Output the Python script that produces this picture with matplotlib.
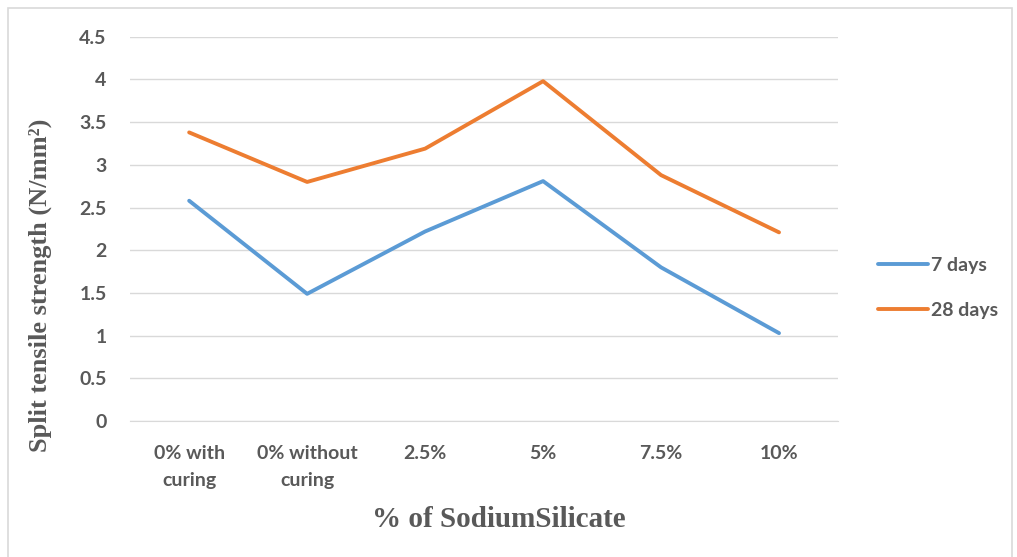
import matplotlib.pyplot as plt
from matplotlib.patches import Rectangle

categories = ["0% with\ncuring", "0% without\ncuring", "2.5%", "5%", "7.5%", "10%"]
days_7 = [2.58, 1.49, 2.22, 2.81, 1.80, 1.03]
days_28 = [3.38, 2.80, 3.19, 3.98, 2.88, 2.21]
yticks = [0, 0.5, 1, 1.5, 2, 2.5, 3, 3.5, 4, 4.5]

TXT = "#595959"
TICKFONT = {"family": "Lato", "weight": "bold", "size": 14}

fig = plt.figure(figsize=(10.17, 5.57), dpi=100)
ax = fig.add_axes([0.128, 0.244, 0.696, 0.690])

# outer chart border
fig.patches.append(Rectangle((8 / 1017, -0.05), 1004 / 1017, 1 - 8 / 557 + 0.05,
                             transform=fig.transFigure, fill=False,
                             edgecolor="#d9d9d9", linewidth=1.2))

x = range(len(categories))
ax.plot(x, days_7, color="#5B9BD5", linewidth=2.8, label="7 days", solid_capstyle="round")
ax.plot(x, days_28, color="#ED7D31", linewidth=2.8, label="28 days", solid_capstyle="round")

ax.set_xlim(-0.5, len(categories) - 0.5)
ax.set_ylim(0, 4.5)
ax.set_yticks(yticks)
ax.set_yticklabels([f"{v:g}" for v in yticks], fontdict=TICKFONT)
ax.set_xticks(list(x))
ax.set_xticklabels(categories, fontdict=TICKFONT, linespacing=1.7)
ax.grid(axis="y", color="#d9d9d9", linewidth=1)
ax.set_axisbelow(True)
for s in ax.spines.values():
    s.set_visible(False)
ax.spines["bottom"].set_visible(True)
ax.spines["bottom"].set_color("#d9d9d9")
ax.tick_params(length=0, labelcolor=TXT)
ax.tick_params(axis="y", pad=17)
ax.tick_params(axis="x", pad=17)

fig.text(0.040, 0.488, "Split tensile strength (N/mm²)", rotation=90,
         ha="center", va="center", fontsize=19, fontweight="bold",
         family="Liberation Serif", color=TXT)
fig.text(0.49, 0.068, "% of SodiumSilicate", ha="center", va="center",
         fontsize=21, fontweight="bold", family="Liberation Serif", color=TXT)

leg = fig.legend(loc="center left", bbox_to_anchor=(0.846, 0.483), frameon=False,
                 handlelength=2.6, labelspacing=1.45, handletextpad=0.15,
                 prop={"family": "Lato", "weight": "bold", "size": 14})
for t in leg.get_texts():
    t.set_color(TXT)

fig.savefig("out.png", dpi=100)
